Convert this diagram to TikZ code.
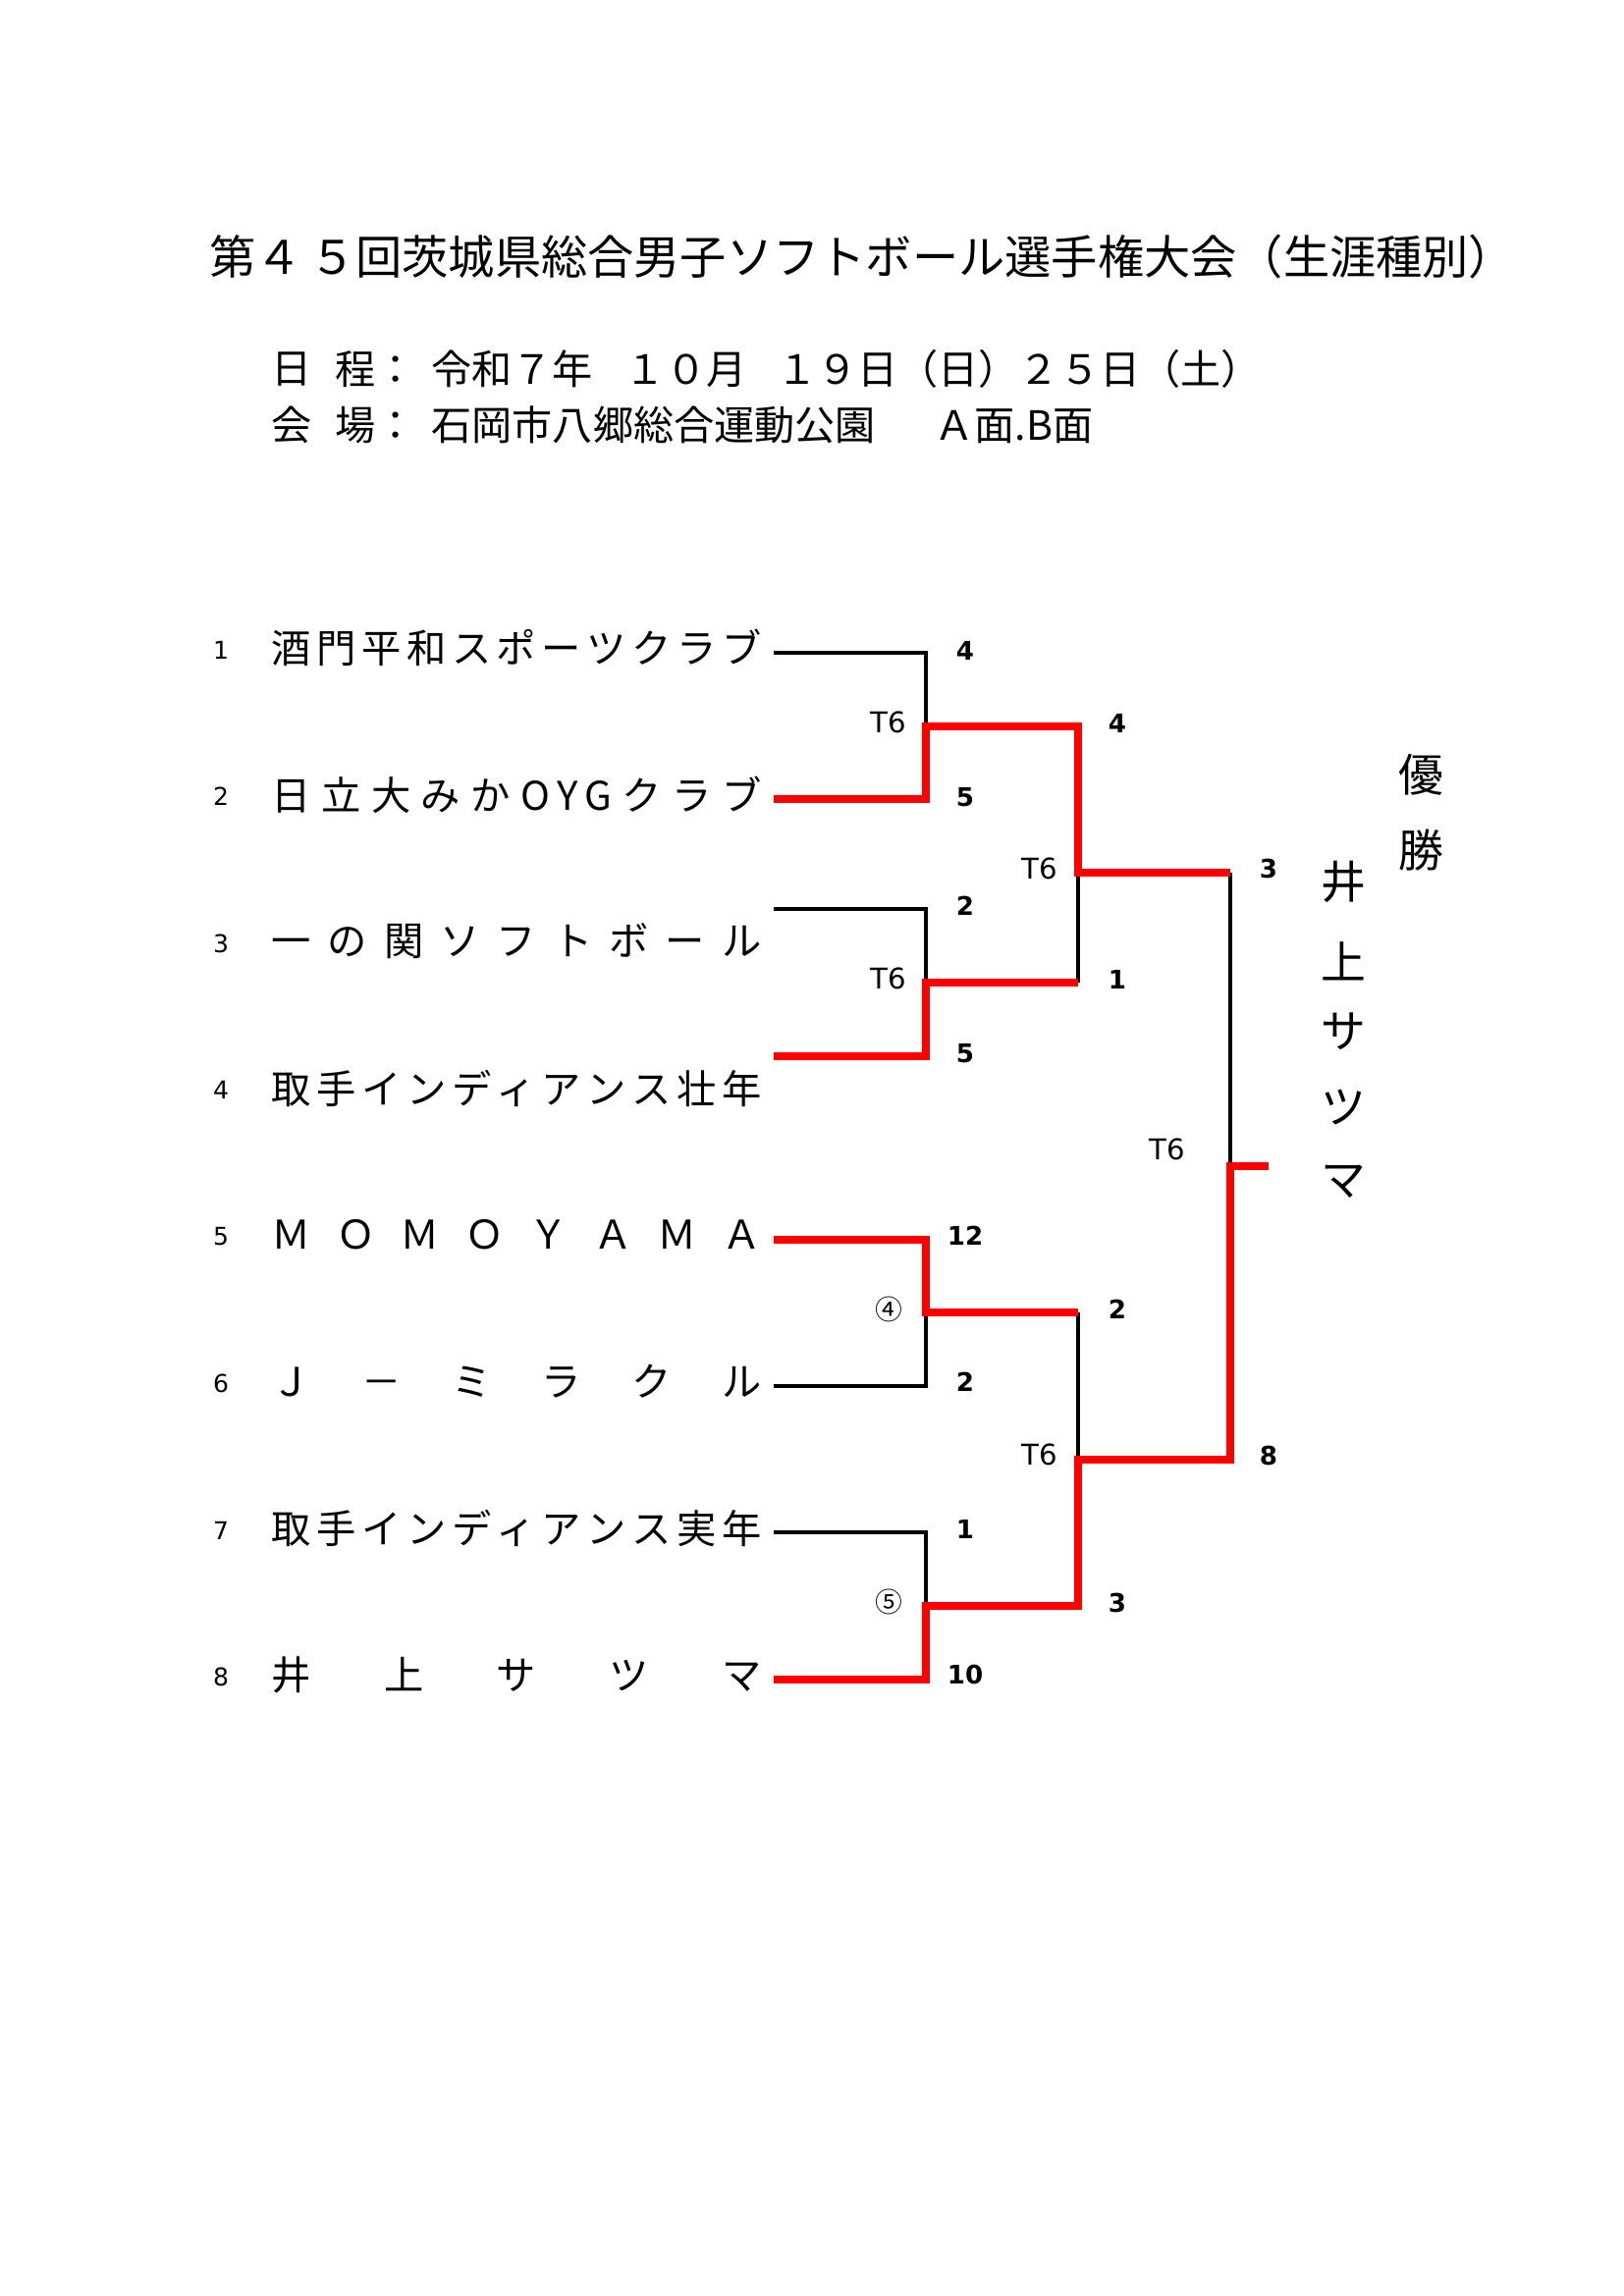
\documentclass[tikz,border=0pt]{standalone}
\usepackage{fontspec}
\setmainfont{Noto Sans CJK JP}
\newfontfamily\dv{DejaVu Sans}
\newfontfamily\jp{Noto Sans CJK JP}
\newcommand\spreadname[1]{\makebox[179.6pt][s]{#1}}
\tikzset{
  blk/.style={line width=1.1pt, black},
  rd/.style={line width=2.63pt, red},
  team/.style={anchor=west, inner sep=0pt, font=\fontsize{14.5pt}{14.5pt}\selectfont},
  tnum/.style={inner sep=0pt, font=\dv\fontsize{9pt}{9pt}\selectfont},
  score/.style={inner sep=0pt, font=\dv\bfseries\fontsize{9.4pt}{9.4pt}\selectfont},
  tlabel/.style={inner sep=0pt, font=\dv\fontsize{10.5pt}{10.5pt}\selectfont},
  clabel/.style={inner sep=0pt, font=\jp\fontsize{10pt}{10pt}\selectfont},
  vchar/.style={inner sep=0pt, font=\fontsize{16.5pt}{16.5pt}\selectfont},
  head/.style={anchor=west, inner sep=0pt, font=\fontsize{14.8pt}{14.8pt}\selectfont},
  titlestyle/.style={anchor=west, inner sep=0pt, font=\fontsize{17pt}{17pt}\selectfont},
}
\begin{document}
\begin{tikzpicture}[x=0.3599pt, y=-0.3599pt]
\useasboundingbox (0,0) rectangle (1654,2339);
\fill[white] (0,0) rectangle (1654,2339);

% header
\node[titlestyle] (title) at (213,262) {第４\hspace{0.15em}５回茨城県総合男子ソフトボール選手権大会（生涯種別）};
\node[head] (h1a) at (276,376) {日};
\node[head] (h1b) at (341,376) {程：};
\node[head] (h1c) at (439,376) {令和７年\hspace{0.8em}１０月\hspace{0.75em}１９日（日）２５日（土）};
\node[head] (h2a) at (276,433) {会};
\node[head] (h2b) at (341,433) {場：};
\node[head] (h2c) at (439,433) {石岡市八郷総合運動公園\hspace{1.45em}Ａ面.B面};

% team numbers
\node[tnum] (n1) at (225,662) {1};
\node[tnum] (n2) at (225,811.5) {2};
\node[tnum] (n3) at (225,961) {3};
\node[tnum] (n4) at (225,1110.5) {4};
\node[tnum] (n5) at (225,1260) {5};
\node[tnum] (n6) at (225,1409.5) {6};
\node[tnum] (n7) at (225,1559) {7};
\node[tnum] (n8) at (225,1708.5) {8};

% team names
\node[team] (t1) at (276,660) {\spreadname{酒\hfill 門\hfill 平\hfill 和\hfill ス\hfill ポ\hfill ー\hfill ツ\hfill ク\hfill ラ\hfill ブ}};
\node[team] (t2) at (276,809.5) {\spreadname{日\hfill 立\hfill 大\hfill み\hfill か\hfill O\hspace{2.5pt}Y\hspace{2.5pt}G\hfill ク\hfill ラ\hfill ブ}};
\node[team] (t3) at (276,959) {\spreadname{一\hfill の\hfill 関\hfill ソ\hfill フ\hfill ト\hfill ボ\hfill ー\hfill ル}};
\node[team] (t4) at (276,1108.5) {\spreadname{取\hfill 手\hfill イ\hfill ン\hfill デ\hfill ィ\hfill ア\hfill ン\hfill ス\hfill 壮\hfill 年}};
\node[team] (t5) at (276,1258) {\spreadname{Ｍ\hfill Ｏ\hfill Ｍ\hfill Ｏ\hfill Ｙ\hfill Ａ\hfill Ｍ\hfill Ａ}};
\node[team] (t6) at (276,1407.5) {\spreadname{Ｊ\hfill －\hfill ミ\hfill ラ\hfill ク\hfill ル}};
\node[team] (t7) at (276,1557) {\spreadname{取\hfill 手\hfill イ\hfill ン\hfill デ\hfill ィ\hfill ア\hfill ン\hfill ス\hfill 実\hfill 年}};
\node[team] (t8) at (276,1706.5) {\spreadname{井\hfill 上\hfill サ\hfill ツ\hfill マ}};

% bracket coordinates
\coordinate (a1) at (788,665);  \coordinate (b1) at (943,665);
\coordinate (a2) at (788,814);  \coordinate (b2) at (943,814);
\coordinate (a3) at (788,926);  \coordinate (b3) at (943,926);
\coordinate (a4) at (788,1076); \coordinate (b4) at (943,1076);
\coordinate (a5) at (788,1263); \coordinate (b5) at (943,1263);
\coordinate (a6) at (788,1412); \coordinate (b6) at (943,1412);
\coordinate (a7) at (788,1561); \coordinate (b7) at (943,1561);
\coordinate (a8) at (788,1711); \coordinate (b8) at (943,1711);
\coordinate (m1) at (943,740);  \coordinate (m1r) at (1098,740);
\coordinate (m2) at (943,1001); \coordinate (m2r) at (1098,1001);
\coordinate (m3) at (943,1337); \coordinate (m3r) at (1098,1337);
\coordinate (m4) at (943,1636); \coordinate (m4r) at (1098,1636);
\coordinate (s1) at (1098,889); \coordinate (s1r) at (1253,889);
\coordinate (s2) at (1098,1487); \coordinate (s2r) at (1253,1487);
\coordinate (f) at (1253,1188); \coordinate (fr) at (1292,1188);

% black (losing) lines
\draw[blk] (a1) -- (b1) -- (m1);
\draw[blk] (a3) -- (b3) -- (m2);
\draw[blk] (a6) -- (b6) -- (m3);
\draw[blk] (a7) -- (b7) -- (m4);
\draw[blk] (m2r) -- (s1);
\draw[blk] (m3r) -- (s2);
\draw[blk] (s1r) -- (f);

% red (winning) lines
\draw[rd] (a2) -- (b2) -- (m1) -- (m1r) -- (s1) -- (s1r);
\draw[rd] (a4) -- (b4) -- (m2) -- (m2r);
\draw[rd] (a5) -- (b5) -- (m3) -- (m3r);
\draw[rd] (a8) -- (b8) -- (m4) -- (m4r) -- (s2) -- (s2r) -- (f) -- (fr);

% scores
\node[score] (sc1) at (983,663) {4};
\node[score] (sc2) at (983,812) {5};
\node[score] (sc3) at (983,923) {2};
\node[score] (sc4) at (983,1073) {5};
\node[score] (sc5) at (983,1259) {12};
\node[score] (sc6) at (983,1408) {2};
\node[score] (sc7) at (983,1558) {1};
\node[score] (sc8) at (983,1706) {10};
\node[score] (ss1) at (1138,737) {4};
\node[score] (ss2) at (1138,998) {1};
\node[score] (ss3) at (1138,1334) {2};
\node[score] (ss4) at (1138,1633) {3};
\node[score] (sf1) at (1292,885) {3};
\node[score] (sf2) at (1292,1483) {8};

% match labels
\node[tlabel] (g1) at (905,736) {T6};
\node[tlabel] (g2) at (905,997) {T6};
\node[clabel] (g3) at (905,1334) {④};
\node[clabel] (g4) at (905,1632) {⑤};
\node[tlabel] (g5) at (1059,885) {T6};
\node[tlabel] (g6) at (1059,1482) {T6};
\node[tlabel] (g7) at (1189,1171) {T6};

% champion
\node[vchar] (y1) at (1447,789) {優};
\node[vchar] (y2) at (1447,866) {勝};
\node[vchar] (w1) at (1368,898) {井};
\node[vchar] (w2) at (1368,979) {上};
\node[vchar] (w3) at (1368,1051) {サ};
\node[vchar] (w4) at (1368,1128) {ツ};
\node[vchar] (w5) at (1368,1204) {マ};
\end{tikzpicture}
\end{document}
